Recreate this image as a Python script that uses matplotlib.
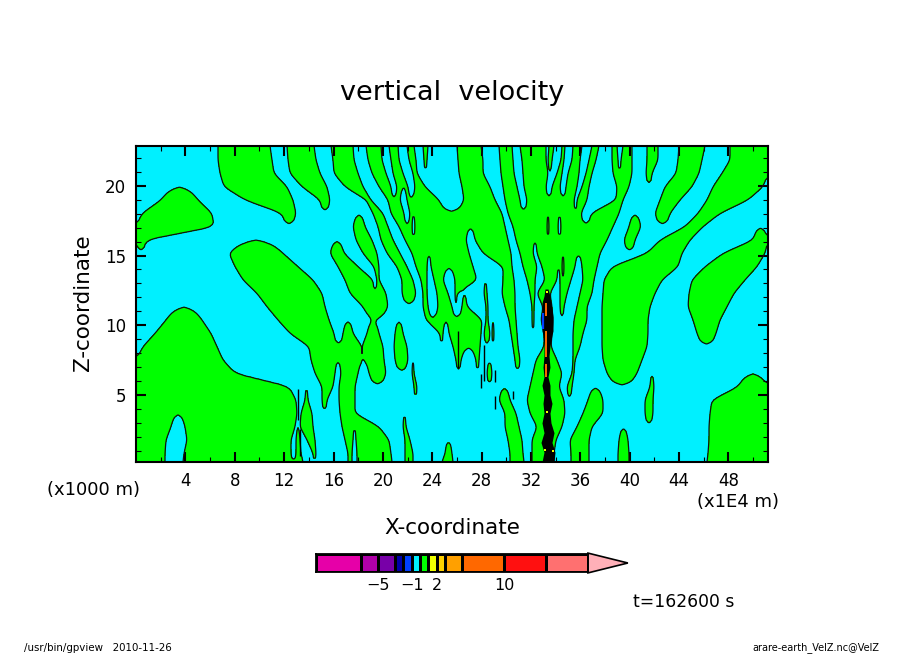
import numpy as np
import matplotlib
matplotlib.use("Agg")
import matplotlib.pyplot as plt

# upward-motion (w>0) intervals on each model level, in grid columns (632 columns span 0..51.2)
row_z = [22.85,21.85,20.89,19.93,18.98,18.02,17.07,16.11,15.16,14.2,13.25,12.29,11.33,
         10.38,9.42,8.47,7.51,6.56,5.6,4.64,3.69,2.73,1.78,0.82,0.2]
w_up = [
 [[82,134],[151,178],[195,217],[230,245],[253,262],[271,278],[287,292],[321,345],[363,376],[384,410],[413,418],[426,429],[437,446],[456,463],[476,481],[487,496],[511,522],[543,569],[594,632]],
 [[82,136],[152,180],[197,218],[232,246],[255,263],[273,280],[288,291],[322,347],[364,377],[386,410],[412,416],[425,428],[436,444],[453,460],[476,482],[485,496],[511,522],[542,566],[594,632]],
 [[84,138],[154,184],[198,222],[236,250],[257,267],[277,281],[323,347],[365,378],[387,412],[421,426],[432,443],[450,456],[477,496],[510,516],[540,563],[586,632]],
 [[88,151],[166,191],[209,227],[243,255],[261,272],[279,289],[326,354],[367,381],[388,410],[416,424],[430,441],[446,453],[481,493],[529,556],[577,627]],
 [[25,62],[109,157],[184,194],[230,235],[252,264],[271,303],[328,359],[369,384],[391,438],[441,451],[480,487],[524,544],[571,612]],
 [[6,76],[146,160],[237,247],[255,268],[274,366],[372,445],[455,483],[519,534],[562,584]],
 [[0,78],[217,229],[242,252],[263,276],[279,369],[377,411],[413,422],[425,477],[493,505],[549,567]],
 [[0,10],[220,236],[245,257],[269,330],[339,372],[380,471],[488,499],[524,554],[617,632]],
 [[93,147],[194,208],[227,241],[251,264],[276,333],[347,375],[384,397],[401,464],[511,546],[587,629]],
 [[99,162],[202,222],[238,243],[261,271],[280,291],[295,337],[367,376],[387,401],[406,426],[428,439],[446,461],[476,542],[569,621]],
 [[107,177],[209,237],[241,243],[266,277],[285,291],[298,307],[319,341],[367,378],[391,399],[409,421],[424,435],[447,458],[468,526],[556,609]],
 [[121,186],[214,250],[266,280],[287,291],[301,312],[319,321],[348,351],[366,379],[394,399],[401,414],[424,431],[444,456],[467,519],[553,598]],
 [[131,189],[227,252],[287,292],[302,316],[326,331],[350,352],[369,379],[396,398],[407,416],[424,428],[441,451],[466,514],[552,591]],
 [[30,66],[142,193],[290,346],[350,352],[373,380],[396,398],[405,417],[438,451],[466,512],[557,584]],
 [[19,75],[154,198],[207,217],[231,243],[259,267],[304,307],[313,345],[348,354],[356,358],[375,381],[408,416],[437,447],[466,512],[561,580]],
 [[7,81],[173,226],[226,247],[258,271],[317,344],[377,382],[408,415],[437,444],[466,511]],
 [[0,87],[175,248],[259,272],[320,325],[340,343],[379,384],[400,421],[437,439],[467,506]],
 [[0,99],[179,199],[205,222],[233,250],[276,278],[351,356],[397,426],[436,438],[471,501]],
 [[0,153],[186,197],[203,219],[278,281],[394,423],[431,436],[514,518],[602,632]],
 [[0,160],[169,172],[186,191],[203,219],[363,374],[391,428],[452,467],[509,517],[576,632]],
 [[0,161],[165,176],[204,219],[369,380],[394,429],[447,467],[509,517],[574,632]],
 [[0,35],[49,159],[164,177],[206,243],[267,270],[369,383],[401,426],[441,456],[573,632]],
 [[0,30],[51,155],[160,164],[171,179],[209,217],[220,253],[269,274],[372,386],[396,420],[434,453],[483,492],[573,632]],
 [[0,29],[48,155],[160,165],[177,180],[212,216],[221,255],[269,277],[309,316],[374,387],[396,418],[435,453],[482,493],[572,632]],
 [[0,29],[47,167],[212,216],[221,256],[269,277],[306,317],[374,388],[396,418],[435,453],[482,493],[571,632]],
]
# unresolved strong-updraft core (dense contours) per level
core_z     = [12.6,12.1,11.6,11.2,10.6,10.0,9.6,9.3,8.5,7.8,7.0,6.3,5.7,5.0,4.4,3.7,3.0,2.3,1.6,0.9,0.2]
core_left  = [409,408,406,406,406,406,406,407,408,408,407,408,406,408,407,408,406,408,405,408,406]
core_right = [412,414,415,416,417,417,417,416,414,413,414,412,414,414,416,414,415,418,416,419,418]
blue_z  = [10.9,9.7]; blue_col = 406.5
orange_z = [[11.6,10.7],[9.6,7.7],[7.2,6.3]]; orange_col = [410,409.5,410]
spark_col = [411, 411, 409, 417]
spark_z   = [12.4, 3.8, 1.06, 1.0]
frag_col = [322,  348,  345,  377,  359,  359,   162,  164]
frag_z0  = [9.6,  8.6,  6.5,  5.3,  6.8,  4.9,   5.4,  2.6]
frag_z1  = [6.9,  6.0,  5.5,  4.7,  5.9,  4.0,   3.2,  0.6]

x_ticks = list(range(4, 52, 4))
z_ticks = [5, 10, 15, 20]
bar_levels = [-12.4,-7,-5,-3,-2,-1,0,1,2,3,5,10,15,20]
bar_colors = ['#e600a8','#b000a8','#7800a8','#0000a8','#0040ff','#00f0ff','#00ff00',
              '#f0ff00','#ffd000','#ffa000','#ff6800','#ff1010','#ff7070']
bar_labels = [-5,-1,2,10]

W, H = 904, 654
XMAX = 51.2
col2x = XMAX/632
fig = plt.figure(figsize=(W/100, H/100), dpi=100)
def axpix(l, t, r, b):
    return fig.add_axes([l/W, 1-b/H, (r-l)/W, (b-t)/H])

ax = axpix(136, 146, 768, 462)
cols = np.arange(0, 633)

def profile(iv):
    f = np.full(cols.shape, -12.0)
    for a, b in iv:
        a2 = -60 if a <= 0.01 else a
        b2 = 700 if b >= 631.99 else b
        f = np.maximum(f, np.minimum(cols-a2, b2-cols))
    return np.clip(f, -12, 12)

def overlaps(p, q):
    return min(p[1], q[1]) > max(p[0], q[0])

def group_links(As, Bs):
    """Edge links between overlapping interval groups of two levels."""
    ga = [(As[i][1], As[i+1][0]) for i in range(len(As)-1)]
    gb = [(Bs[i][1], Bs[i+1][0]) for i in range(len(Bs)-1)]
    used = set(); gl = []
    for g in ga:
        hit = None
        for j, h in enumerate(gb):
            if j not in used and overlaps(g, h):
                hit = j; break
        if hit is None:
            c = sum(g)/2
            gl.append((g, (c, c), 'close'))
        else:
            used.add(hit)
            gl.append((g, gb[hit], 'lin'))
    for j, h in enumerate(gb):
        if j not in used:
            c = sum(h)/2
            gl.append(((c, c), h, 'open'))
    gl.sort(key=lambda e: sum(e[0])+sum(e[1]))
    links = []
    start = (As[0][0], Bs[0][0], 'lin')
    for s, t, m in gl:
        links.append((start, (s[0], t[0], m)))
        start = (s[1], t[1], m)
    links.append((start, (As[-1][1], Bs[-1][1], 'lin')))
    return links

def level_links(A, B):
    n, m = len(A), len(B)
    parent = list(range(n+m))
    def find(i):
        while parent[i] != i:
            i = parent[i]
        return i
    for i in range(n):
        for j in range(m):
            if overlaps(A[i], B[j]):
                parent[find(i)] = find(n+j)
    groups = {}
    for i in range(n+m):
        groups.setdefault(find(i), []).append(i)
    links = []; lone_a = []; lone_b = []
    for g in groups.values():
        ga = [A[i] for i in g if i < n]
        gb = [B[i-n] for i in g if i >= n]
        if ga and gb:
            links += group_links(ga, gb)
        elif ga:
            lone_a.append(ga[0])
        else:
            lone_b.append(gb[0])
    def gap(p, q):
        return max(p[0], q[0]) - min(p[1], q[1])
    for a in lone_a:
        ca = sum(a)/2
        best = min(lone_b, key=lambda b: gap(a, b), default=None)
        if best is not None and gap(a, best) <= 3:
            lone_b.remove(best)
            links.append(((a[0], best[0], 'lin'), (a[1], best[1], 'lin')))
        else:
            links.append(((a[0], ca, 'close'), (a[1], ca, 'close')))
    for b in lone_b:
        cb = sum(b)/2
        links.append(((cb, b[0], 'open'), (cb, b[1], 'open')))
    return links

def edge(e, t):
    s, q, m = e
    w = t if m == 'lin' else (1-np.sqrt(1-t) if m == 'close' else np.sqrt(t))
    return s+(q-s)*w

SUB = 6
fields, zs = [], []
for k in range(len(w_up)-1):
    links = level_links(w_up[k], w_up[k+1])
    for s in range(SUB):
        t = s/SUB
        fields.append(profile([[edge(l, t), edge(r, t)] for l, r in links]))
        zs.append(row_z[k]+(row_z[k+1]-row_z[k])*t)
fields.append(profile(w_up[-1])); zs.append(row_z[-1])
F = np.array(fields)[::-1]
Z = np.array(zs)[::-1]
# light vertical smoothing to round the level-to-level kinks
kern = np.array([1, 2, 3, 2, 1])/9
pad = np.pad(F, ((2, 2), (0, 0)), mode='edge')
F = np.apply_along_axis(lambda c: np.convolve(c, kern, mode='valid'), 0, pad)
X = cols*col2x
ax.contourf(X, Z, F, levels=[-100, 0, 100], colors=['#00f0ff', '#00ff00'])
ax.contour(X, Z, F, levels=[0], colors='#101010', linewidths=0.9)
ax.fill_betweenx(core_z, np.array(core_left)*col2x, np.array(core_right)*col2x, color='k', lw=0, zorder=3)
ax.vlines(np.array(frag_col)*col2x, frag_z0, frag_z1, color='k', lw=1.0, zorder=3)
ax.vlines(blue_col*col2x, blue_z[0], blue_z[1], color='#0040ff', lw=1.6, zorder=4)
for c, zz in zip(orange_col, orange_z):
    ax.vlines(c*col2x, zz[0], zz[1], color='#ff6800', lw=1.4, zorder=4)
ax.scatter(np.array(spark_col)*col2x, spark_z, s=2, color='#f0ff00', marker='s', linewidths=0, zorder=5)

ax.set_xlim(0, XMAX)
ax.set_ylim(0.2, 22.85)
ax.set_xticks(x_ticks)
ax.set_xticks(np.arange(2, 52, 4), minor=True)
ax.set_yticks(z_ticks)
ax.set_yticks(np.arange(1, 23), minor=True)
ax.tick_params(which='major', direction='in', length=7, width=1.5, top=True, right=True, labelsize=12, pad=7)
ax.tick_params(which='minor', direction='in', length=3.5, width=0.8, top=True, right=True)
for s in ax.spines.values():
    s.set_linewidth(1.5)
    s.set_zorder(6)

def ptext(x, y, s, size, ha='left', **kw):
    fig.text(x/W, 1-y/H, s, fontsize=size, ha=ha, va='center', color='k', **kw)

ptext(452, 93, 'vertical  velocity', 19.5, ha='center')
ptext(452, 528, 'X-coordinate', 15.5, ha='center')
ptext(83, 303, 'Z-coordinate', 15.5, ha='center', rotation=90)
ptext(47, 490, '(x1000 m)', 13)
ptext(697, 502, '(x1E4 m)', 13)
ptext(633, 602, 't=162600 s', 12.3)
ptext(24, 648, '/usr/bin/gpview   2010-11-26', 7.4)
ptext(752, 648, 'arare-earth_VelZ.nc@VelZ', 7)

cax = axpix(316, 554, 588, 572)
cax.pcolormesh(bar_levels, [0, 1], np.arange(13).reshape(1, -1),
               cmap=matplotlib.colors.ListedColormap(bar_colors), edgecolors='k', linewidth=0.9)
cax.set_xlim(bar_levels[0], bar_levels[-1])
cax.set_ylim(0, 1)
cax.set_yticks([])
cax.set_xticks(bar_labels)
cax.set_xticklabels(['\u22125', '\u22121', '2', '10'], fontsize=11.5)
cax.tick_params(length=0, pad=4)
for s in cax.spines.values():
    s.set_linewidth(1.3)
tip = 20 + (628-588)/8.42
cax.fill([20, tip, 20], [1.05, 0.5, -0.05], facecolor='#ffb0b8', edgecolor='k', lw=1.2, clip_on=False)

fig.savefig('out.png', dpi=100)
